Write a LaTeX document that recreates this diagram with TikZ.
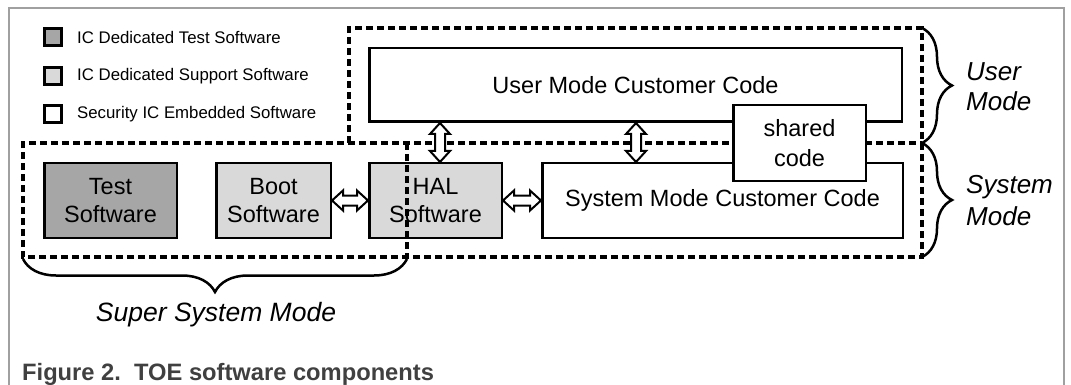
\documentclass[tikz,border=0pt]{standalone}
\usepackage{fontspec}
\setmainfont{Liberation Sans}
\usetikzlibrary{decorations.pathreplacing,calc}
\definecolor{testgray}{RGB}{166,166,166}
\definecolor{supgray}{RGB}{217,217,217}
\definecolor{framegray}{RGB}{160,160,160}
\definecolor{capgray}{RGB}{64,64,64}
\tikzset{
 box/.style={draw=black, line width=2.5pt, fill=white, inner sep=0pt, align=center, font=\fontsize{23.5}{28}\selectfont},
 testbox/.style={box, fill=testgray},
 supbox/.style={box, fill=supgray},
 dashbox/.style={draw=black, line width=3.5pt, dash pattern=on 7pt off 4pt},
 brc/.style={decorate, decoration={brace, amplitude=#1}, line width=2.5pt},
 arr/.style={draw=black, fill=white, line width=2pt, line join=miter},
 legsq/.style={draw=black, line width=3pt, minimum size=17pt, inner sep=0pt},
 legtxt/.style={anchor=west, font=\fontsize{16.8}{20}\selectfont, inner sep=0pt},
 modelbl/.style={anchor=north west, align=left, inner sep=0pt},
}
\newcommand\harrowlink[2]{\path[arr] let \p1=(#1), \p2=(#2) in
 (\x1,\y1) -- (\x1+11pt,\y1+10pt) -- (\x1+11pt,\y1+5pt) -- (\x2-11pt,\y1+5pt) -- (\x2-11pt,\y1+10pt) -- (\x2,\y1)
 -- (\x2-11pt,\y1-10pt) -- (\x2-11pt,\y1-5pt) -- (\x1+11pt,\y1-5pt) -- (\x1+11pt,\y1-10pt) -- cycle;}
\newcommand\varrowlink[2]{\path[arr] let \p1=(#1), \p2=(#2) in
 (\x1,\y1) -- (\x1+10pt,\y1-11pt) -- (\x1+5pt,\y1-11pt) -- (\x1+5pt,\y2+11pt) -- (\x1+10pt,\y2+11pt) -- (\x1,\y2)
 -- (\x1-10pt,\y2+11pt) -- (\x1-5pt,\y2+11pt) -- (\x1-5pt,\y1-11pt) -- (\x1-10pt,\y1-11pt) -- cycle;}
\begin{document}
\begin{tikzpicture}[x=1pt,y=-1pt]
\useasboundingbox (0,0) rectangle (1071,385);
\fill[white] (0,0) rectangle (1071,385);
% frame
\draw[framegray, line width=1.5pt] (9,385) -- (9,8) -- (1064,8) -- (1064,385);
% legend
\node[legsq, fill=testgray] (l1) at (53,37.5) {};
\node[legsq, fill=supgray] (l2) at (53,76) {};
\node[legsq, fill=white] (l3) at (53,114) {};
\node[legtxt] (t1) at (77,37.5) {IC Dedicated Test Software};
\node[legtxt] (t2) at (77,76) {IC Dedicated Support Software};
\node[legtxt] (t3) at (77,114) {Security IC Embedded Software};
% boxes
\node[box, minimum width=532.5pt, minimum height=73.5pt] (user) at (635.5,85) {User Mode Customer Code};
\node[box, minimum width=360.5pt, minimum height=74.5pt] (sys) at (722.5,200.5) {System Mode Customer Code};
\node[testbox, minimum width=132.5pt, minimum height=74.5pt] (test) at (110.5,200.5) {Test\\Software};
\node[supbox, minimum width=114.5pt, minimum height=74.5pt] (boot) at (273.5,200.5) {Boot\\Software};
\node[supbox, minimum width=132.5pt, minimum height=74.5pt] (hal) at (435.5,200.5) {HAL\\Software};
% dashed mode regions (each edge drawn once)
\coordinate (ul) at (349,28);
\coordinate (ur) at (922,28);
\coordinate (ml) at (23,143);
\coordinate (mr) at (922,143);
\coordinate (bl) at (23,257);
\coordinate (br) at (922,257);
\coordinate (dt) at (407,143);
\coordinate (db) at (407,257);
\draw[dashbox] (ml -| ul) -- (ul) -- (ur) -- (br) -- (bl) -- (ml) -- (mr);
\draw[dashbox] (dt) -- (db);
% shared code
\node[box, minimum width=132.5pt, minimum height=75.5pt, font=\fontsize{23.5}{30}\selectfont] (shared) at (799.5,143) {shared\\code};
% arrows
\coordinate (va1) at (440,0);
\coordinate (va2) at (636,0);
\harrowlink{boot.east}{hal.west}
\harrowlink{hal.east}{sys.west}
\varrowlink{user.south -| va1}{hal.north -| va1}
\varrowlink{user.south -| va2}{sys.north -| va2}
% braces
\draw[brc=30pt] (ur) -- (mr);
\draw[brc=30pt] (mr) -- (br);
\draw[brc=33pt] ([yshift=-2pt]db) -- ([yshift=-2pt]bl);
% labels
\node[modelbl, font=\fontsize{26}{30}\selectfont\itshape] (um) at (966,62) {User\\Mode};
\node[modelbl, font=\fontsize{26}{32}\selectfont\itshape] (sm) at (966,175) {System\\Mode};
\node[anchor=base, inner sep=0pt, font=\fontsize{26.5}{30}\selectfont\itshape] (ssm) at (216,321) {Super System Mode};
\node[anchor=base west, inner sep=0pt, text=capgray, font=\fontsize{23.7}{28}\selectfont\bfseries] (cap) at (22,380) {Figure 2.\ \ TOE software components};
\end{tikzpicture}
\end{document}
